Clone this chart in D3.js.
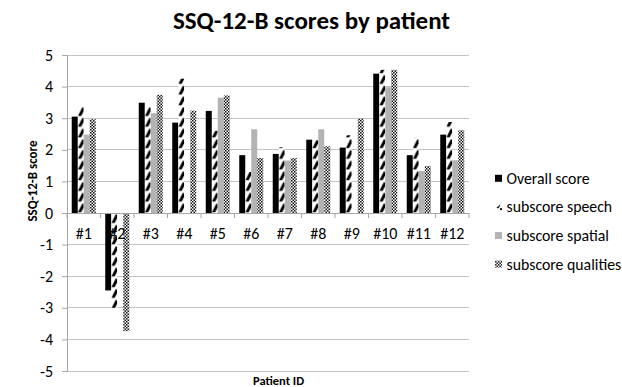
<!DOCTYPE html>
<html><head><meta charset="utf-8">
<script src="https://cdn.jsdelivr.net/npm/d3@7"></script>
<style>
body{margin:0;background:#fff;}
svg{display:block;font-family:Carlito,"Open Sans","Liberation Sans",sans-serif;}
</style></head>
<body><svg id="c" width="622" height="387"></svg>
<script>
const categories = ["#1","#2","#3","#4","#5","#6","#7","#8","#9","#10","#11","#12"];
const seriesNames = ["Overall score","subscore speech","subscore spatial","subscore qualities"];
const overall   = [3.05,-2.45,3.49,2.86,3.23,1.83,1.87,2.32,2.07,4.41,1.83,2.48];
const speech    = [3.38,-3.00,3.35,4.25,2.60,1.30,2.08,2.30,2.46,4.53,2.38,2.88];
const spatial   = [2.48, 0,   3.16, 0,  3.65,2.65,1.66,2.65, 0,  3.98,1.33,1.67];
const qualities = [2.97,-3.74,3.74,3.24,3.72,1.74,1.74,2.11,2.99,4.53,1.49,2.62];
const yTicks = [5,4,3,2,1,0,-1,-2,-3,-4,-5];
const seriesValues = [overall, speech, spatial, qualities];

const svg = d3.select("#c");
const L=67, R=469, T=55, B=371;
const x = d3.scaleBand().domain(categories).range([L,R]).padding(0);
const groupW = x.bandwidth()*24/33.5;
const xs = d3.scaleBand().domain(seriesNames).range([0,groupW]);
const off = (x.bandwidth()-groupW)/2;
const y = d3.scaleLinear().domain([-5,5]).range([B,T]);

const defs = svg.append("defs");
const bw = xs.bandwidth();
const p1 = defs.append("pattern").attr("id","speech").attr("patternUnits","userSpaceOnUse")
  .attr("x", L+off+xs("subscore speech")).attr("y", y(0))
  .attr("width", x.step()).attr("height", 10.7);
p1.append("rect").attr("width",bw).attr("height",10.7).attr("fill","#fff");
p1.append("path").attr("d",`M0.2,9.9 L3.4,9.9 L${bw},5.2 L${bw},1.4 L${bw-1.6},1.4 Z`).attr("fill","#000");
const p2 = defs.append("pattern").attr("id","qual").attr("patternUnits","userSpaceOnUse")
  .attr("width",3).attr("height",3);
p2.append("rect").attr("width",3).attr("height",3).attr("fill","#fff");
p2.append("rect").attr("width",1.5).attr("height",1.5).attr("fill","#111");
p2.append("rect").attr("x",1.5).attr("y",1.5).attr("width",1.5).attr("height",1.5).attr("fill","#111");
const p3 = defs.append("pattern").attr("id","speechLeg").attr("patternUnits","userSpaceOnUse")
  .attr("x",495).attr("y",204.3).attr("width",7).attr("height",7);
p3.append("rect").attr("width",7).attr("height",7).attr("fill","#fff");
p3.append("rect").attr("x",0).attr("y",0).attr("width",2).attr("height",2).attr("fill","#000");
p3.append("path").attr("d","M3.2,7 L5.6,7 L7,4.6 L7,3.4 Z").attr("fill","#000");

const fills = ["#000","url(#speech)","#b3b3b3","url(#qual)"];

svg.append("g").selectAll("line").data(yTicks).join("line")
  .attr("x1",L).attr("x2",R).attr("y1",d=>y(d)).attr("y2",d=>y(d))
  .attr("stroke","#c4c4c4").attr("stroke-width",1).attr("shape-rendering","crispEdges");

seriesValues.forEach((vals,si)=>{
  svg.append("g").selectAll("rect").data(vals.map((v,i)=>({c:categories[i],v})).filter(d=>d.v!==0)).join("rect")
    .attr("x",d=>x(d.c)+off+xs(seriesNames[si]))
    .attr("width",xs.bandwidth())
    .attr("y",d=>y(Math.max(0,d.v)))
    .attr("height",d=>Math.abs(y(d.v)-y(0)))
    .attr("fill",fills[si]);
});

const ya = svg.append("g").attr("transform",`translate(${L},0)`)
  .call(d3.axisLeft(y).tickValues(yTicks).tickSize(5).tickPadding(9).tickFormat(d3.format("d")));
ya.select(".domain").attr("stroke","#a6a6a6");
ya.selectAll(".tick line").attr("stroke","#a6a6a6");
ya.selectAll("text").attr("font-size",16).attr("fill","#000").attr("font-family",'Carlito,"Open Sans",sans-serif');
ya.selectAll("text").text(d=>d<0?"-"+Math.abs(d):d);

const xa = svg.append("g").attr("transform",`translate(0,${y(0)})`)
  .call(d3.axisBottom(x).tickSize(0).tickPadding(15));
xa.select(".domain").attr("stroke","#a6a6a6");
xa.selectAll("text").attr("font-size",16).attr("fill","#000").attr("font-family",'Carlito,"Open Sans",sans-serif');
xa.append("g").selectAll("line").data(d3.range(categories.length+1)).join("line")
  .attr("x1",i=>L+i*x.step()).attr("x2",i=>L+i*x.step()).attr("y1",0).attr("y2",5)
  .attr("stroke","#a6a6a6");

svg.append("text").attr("x",311.5).attr("y",29).attr("text-anchor","middle")
  .attr("font-size",25).attr("font-weight","bold").attr("fill","#000").text("SSQ-12-B scores by patient");
svg.append("text").attr("x",278.5).attr("y",385).attr("text-anchor","middle")
  .attr("font-size",12.5).attr("font-weight","bold").attr("fill","#000").text("Patient ID");
svg.append("text").attr("transform","translate(37,181) rotate(-90)").attr("text-anchor","middle")
  .attr("font-size",13).attr("font-weight","bold").attr("fill","#000").text("SSQ-12-B score");

const legFills = ["#000","url(#speechLeg)","#b3b3b3","url(#qual)"];
const lg = svg.append("g").selectAll("g").data(seriesNames).join("g")
  .attr("transform",(d,i)=>`translate(495,${178.3+i*28.6})`);
lg.append("rect").attr("x",0).attr("y",-3.5).attr("width",7).attr("height",7).attr("fill",(d,i)=>legFills[i]);
lg.append("text").attr("x",11.5).attr("y",5.5).attr("font-size",15.8).attr("fill","#000").text(d=>d);
</script></body></html>
